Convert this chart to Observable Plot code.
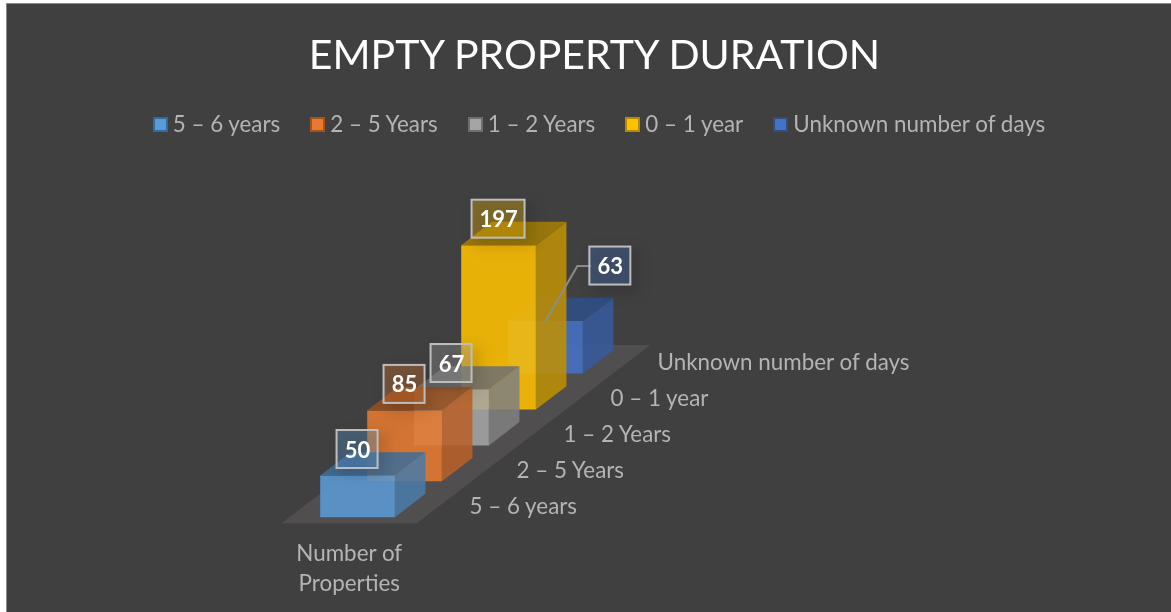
<!DOCTYPE html>
<html><head><meta charset="utf-8">
<script src="https://cdn.jsdelivr.net/npm/d3@7"></script>
<script src="https://cdn.jsdelivr.net/npm/@observablehq/plot@0.6"></script>
<style>
html,body{margin:0;padding:0;background:#fff;width:1171px;height:612px;overflow:hidden}
#chart{position:absolute;left:6px;top:3px;width:1165px;height:609px;background:#404040;border-left:1px solid #8a8a8a;border-top:1px solid #8a8a8a;font-family:Lato,sans-serif;overflow:hidden;filter:blur(.4px)}
#title{position:absolute;left:10px;right:0;top:24px;text-align:center;color:#fff;font-size:41px;line-height:52px}
#legend{position:absolute;left:19px;right:0;top:106px;display:flex;justify-content:center;color:#b4b4b4;font-size:22.4px;line-height:28px}
#legend .item{display:flex;align-items:center;margin-right:30px}
#legend .item:last-child{margin-right:0}
#legend i{display:block;width:11px;height:11px;border:2px solid;margin-right:5px}
#plot{position:absolute;left:0;top:146px}
svg{display:block}
</style></head><body>
<div id="chart"><div id="title"></div><div id="legend"></div><div id="plot"></div></div>
<script>
const titleText = "EMPTY PROPERTY DURATION";
const categories = ["5 – 6 years","2 – 5 Years","1 – 2 Years","0 – 1 year","Unknown number of days"];
const values = [50,85,67,197,63];
const frontColors = ["#5b9bd5","#e57a30","#a5a5a5","#ffc000","#4472c4"];
const sideColors  = ["#4a7ba8","#b8602a","#7f7f7f","#bd8f05","#375a9b"];
const topColors   = ["#3f6d98","#99501f","#6f6f6f","#a37d05","#2f4e86"];
const legendEdge  = ["#2e6da4","#a8521b","#6f6f6f","#b58a00","#2f4e86"];
const seriesLabel = ["Number of","Properties"];
const barOpacity = 0.88;

const W = 1164, H = 462;
const pxPerWidth = 74.7, pxPerValue = 0.834, stepX = 47, stepY = 35.9, barDepth = 0.65;
const originX = 312.7, originY = 366.7;

document.getElementById("title").textContent = titleText;
const lg = document.getElementById("legend");
categories.forEach((c,i)=>{
  const it = document.createElement("div"); it.className="item";
  const sw = document.createElement("i"); sw.style.background=frontColors[i]; sw.style.borderColor=legendEdge[i];
  const t = document.createElement("span"); t.textContent=c;
  it.append(sw,t); lg.append(it);
});

// oblique projection: w along the bar width, d along the categories, h in properties
const P = (w,d,h)=>({x:w+d*stepX/pxPerWidth, y:h+d*stepY/pxPerValue});
const px = v=>v/pxPerWidth, py = v=>v/pxPerValue;

const floor = [[-0.413,-0.167],[1.4,-0.167],[1.4,4.8],[-0.413,4.8]].map(([w,d])=>P(w,d,0));

const faces = [];
d3.range(categories.length-1,-1,-1).forEach(i=>{
  const v=values[i], d0=i, d1=i+barDepth;
  const add=(name,color,pts)=>pts.forEach(p=>faces.push({...p,key:i+name,color}));
  add("front",frontColors[i],[P(0,d0,0),P(1,d0,0),P(1,d0,v),P(0,d0,v)]);
  add("side",sideColors[i],[P(1,d0,0),P(1,d1,0),P(1,d1,v),P(1,d0,v)]);
  add("top",topColors[i],[P(0,d0,v),P(1,d0,v),P(1,d1,v),P(0,d1,v)]);
});

const labelOffsets = categories.map((c,i)=> i===4 ? {dx:64.8,dy:55} : {dx:0,dy:26});
const labels = values.map((v,i)=>{
  const a=P(0.5,i,v), o=labelOffsets[i], halfW=String(v).length>2?26.5:20.5, halfH=19;
  const cx=a.x+px(o.dx), cy=a.y+py(o.dy);
  return {v,i,cx,cy,x1:cx-px(halfW),x2:cx+px(halfW),y1:cy-py(halfH),y2:cy+py(halfH),color:frontColors[i],ax:a.x,ay:a.y};
});
const last = labels[4];
const leader = [{x:last.ax,y:last.ay},{x:last.cx-px(33),y:last.cy},{x:last.cx-px(20),y:last.cy}];

const catLabels = categories.map((c,i)=>({c,...P(1.81,i+0.3,0)}));
const axisName = P(0.494,-0.167,-1).x;

const chart = Plot.plot({
  width:W,height:H,margin:0,
  style:{background:"transparent",fontFamily:"Lato,sans-serif"},
  x:{axis:null,domain:[-originX/pxPerWidth,(W-originX)/pxPerWidth]},
  y:{axis:null,domain:[(originY-H)/pxPerValue,originY/pxPerValue]},
  color:{type:"identity"},
  marks:[
    Plot.line(floor,{x:"x",y:"y",fill:"#504e4e",stroke:"none"}),
    Plot.line(faces,{x:"x",y:"y",z:"key",fill:"color",stroke:"none",fillOpacity:barOpacity}),
    Plot.line(leader,{x:"x",y:"y",stroke:"#8c8c8c",strokeWidth:2}),
    Plot.rect(labels,{x1:"x1",x2:"x2",y1:"y1",y2:"y2",fill:"color",fillOpacity:0.32,stroke:"#bdbdbd",strokeWidth:2,imageFilter:"drop-shadow(6px 6px 7px rgba(0,0,0,.3))"}),
    Plot.text(labels,{x:"cx",y:"cy",dy:1,text:d=>String(d.v),fill:"#fff",fontWeight:700,fontSize:22}),
    Plot.text(catLabels,{x:"x",y:"y",text:"c",textAnchor:"start",fill:"#b4b4b4",fontSize:22.4}),
    Plot.text([seriesLabel.join("\n")],{x:axisName,y:py(-49),text:d=>d,fill:"#b4b4b4",fontSize:22.4,lineHeight:1.34})
  ]
});
document.getElementById("plot").append(chart);
</script>
</body></html>
